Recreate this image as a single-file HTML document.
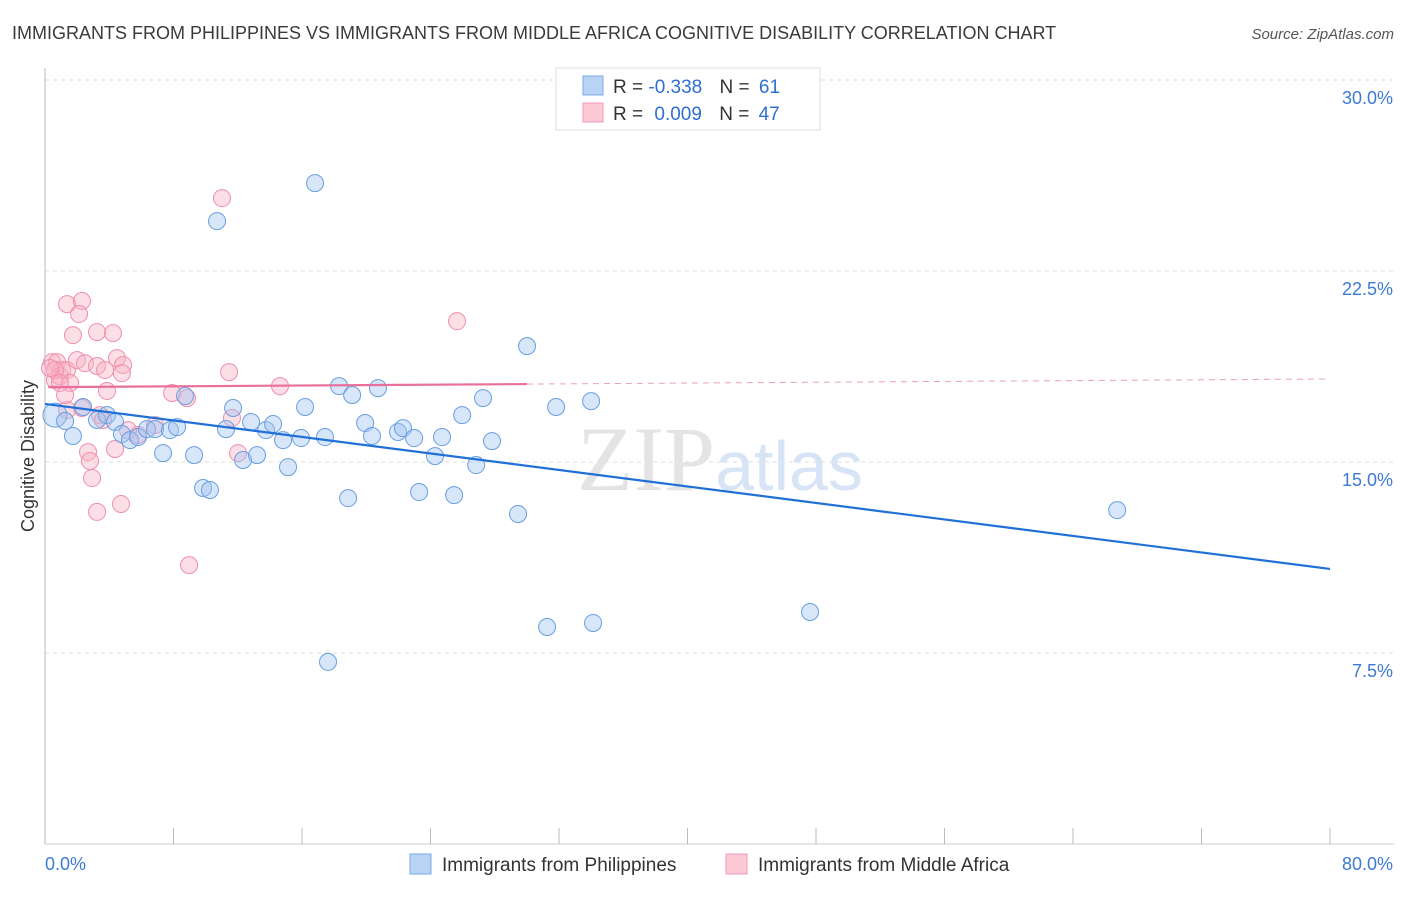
<!DOCTYPE html>
<html><head><meta charset="utf-8"><style>
body{margin:0;background:#fff;font-family:"Liberation Sans",sans-serif;}
</style></head><body>
<svg id="chart" width="1406" height="892" xmlns="http://www.w3.org/2000/svg" font-family="Liberation Sans, sans-serif">
<text x="12" y="39" font-size="18" fill="#3a3a3a">IMMIGRANTS FROM PHILIPPINES VS IMMIGRANTS FROM MIDDLE AFRICA COGNITIVE DISABILITY CORRELATION CHART</text>
<text x="1394" y="39" font-size="15" fill="#555" text-anchor="end" font-style="italic">Source: ZipAtlas.com</text>
<g id="grid"></g>
<text x="720" y="490" font-size="92" text-anchor="middle" fill="#e4e4e4" font-family="Liberation Serif, serif">ZIP<tspan fill="#d6e4f5" font-family="Liberation Sans, sans-serif" font-size="70">atlas</tspan></text>
<g id="marks"></g>
<text transform="translate(34,456) rotate(-90)" font-size="18" fill="#333" text-anchor="middle">Cognitive Disability</text>
<g>
<rect x="556" y="68" width="264" height="62" fill="#fff" stroke="#ddd"/>
<rect x="583" y="76" width="20" height="19" fill="#b9d3f5" stroke="#7aa8e6"/>
<rect x="583" y="103" width="20" height="19" fill="#fcc9d7" stroke="#f09ab4"/>
<text x="613" y="93" font-size="19" fill="#333">R = <tspan fill="#2d6fd0">-0.338</tspan>  <tspan dx="12">N = </tspan><tspan fill="#2d6fd0" dx="4">61</tspan></text>
<text x="613" y="120" font-size="19" fill="#333">R = <tspan fill="#2d6fd0" dx="6">0.009</tspan>  <tspan dx="12">N = </tspan><tspan fill="#2d6fd0" dx="4">47</tspan></text>
</g>
<g>
<rect x="410" y="854" width="21" height="20" fill="#b9d3f5" stroke="#7aa8e6"/>
<text x="442" y="871" font-size="19" fill="#333">Immigrants from Philippines</text>
<rect x="726" y="854" width="21" height="20" fill="#fcc9d7" stroke="#f09ab4"/>
<text x="758" y="871" font-size="19" fill="#333">Immigrants from Middle Africa</text>
</g>
</svg>
<script>
const xTickLabels=["0.0%","80.0%"];
const yTicks=[7.5,15,22.5,30];
const yTickLabels=["7.5%","15.0%","22.5%","30.0%"];
const blueX=[16.81,10.71,30.01,0.62,1.25,1.74,2.37,3.24,3.86,4.36,4.79,5.29,5.79,6.35,6.85,7.35,7.78,8.22,8.72,9.28,9.84,10.27,11.27,11.71,12.33,12.83,13.20,13.76,14.20,14.82,15.13,15.94,16.19,17.43,17.62,18.31,18.87,19.12,19.93,20.36,20.73,21.98,22.29,22.98,23.29,24.28,24.72,25.47,25.97,26.84,27.27,27.83,29.45,31.26,31.82,34.00,34.12,47.63,66.75];
const blueY=[25.95,24.46,19.55,16.84,16.61,16.02,17.16,16.65,16.84,16.57,16.10,15.86,15.98,16.29,16.29,15.35,16.25,16.37,17.59,15.27,13.98,13.90,16.29,17.12,15.08,16.57,15.27,16.25,16.49,15.86,14.80,15.94,17.16,15.98,7.15,17.98,13.58,17.63,16.53,16.02,17.90,16.18,16.33,15.94,13.82,15.23,15.98,13.70,16.84,14.88,17.51,15.82,12.96,8.52,17.16,17.39,8.68,9.11,13.11];
const pinkX=[11.02,1.37,2.30,2.12,25.65,1.74,3.24,4.23,0.44,0.75,1.06,0.62,0.93,1.37,1.56,1.99,2.49,3.24,3.74,4.48,4.86,4.79,3.86,11.46,14.63,8.84,7.91,2.30,1.37,3.42,3.61,6.85,5.79,11.64,4.36,2.68,2.80,2.93,12.02,3.24,4.73,8.97,0.62,0.93,0.31,1.25,5.17];
const pinkY=[25.36,21.20,21.32,20.81,20.53,19.98,20.10,20.06,18.92,18.92,18.61,18.22,18.37,18.61,18.10,19.00,18.88,18.77,18.61,19.08,18.81,18.49,17.79,18.53,17.98,17.51,17.71,17.12,17.04,16.84,16.65,16.45,16.06,16.73,15.51,15.39,15.04,14.37,15.35,13.04,13.35,10.95,18.61,18.10,18.69,17.63,16.25];
const blueTrend=[17.28,10.80];
const pinkTrend=[17.94,18.26];
const X0=45,X1=1330,Y0=844,YTOP=80;
const sx=v=>X0+v*(X1-X0)/80;
const sy=v=>Y0-v*(Y0-YTOP)/30;
const NS="http://www.w3.org/2000/svg";
function mk(tag,attrs,parent){const e=document.createElementNS(NS,tag);for(const k in attrs)e.setAttribute(k,attrs[k]);parent.appendChild(e);return e;}
const grid=document.getElementById('grid'),marks=document.getElementById('marks');
yTicks.forEach((t,i)=>{
 const l=mk('line',{x1:X0,x2:1394,y1:sy(t),y2:sy(t),stroke:'#ddd','stroke-dasharray':'4,4'},grid);
 
 
 const tx=mk('text',{x:1393,y:sy(t)+24,'font-size':18,fill:'#3d7ad6','text-anchor':'end'},grid);
 tx.textContent=yTickLabels[i];
 
 
});
const ax=mk('line',{x1:X0,x2:X0,y1:68,y2:Y0,stroke:'#bbb'},grid);


const bx=mk('line',{x1:X0,x2:1394,y1:Y0,y2:Y0,stroke:'#ccc'},grid);


for(let i=0;i<=10;i++){
 const t=mk('line',{x1:sx(i*8),x2:sx(i*8),y1:828,y2:Y0,stroke:'#bbb'},grid);
 
 
}
[[0,'start',45],[80,'end',1393]].forEach((d,i)=>{
 const t=mk('text',{x:d[2],y:870,'font-size':18,fill:'#3d7ad6','text-anchor':d[1]},grid);
 t.textContent=xTickLabels[i];
 
 
});
pinkX.forEach((x,i)=>{
 const c=mk('circle',{cx:sx(x),cy:sy(pinkY[i]),r:8.5,fill:'rgba(248,176,198,0.42)',stroke:'#f08fac','stroke-width':1},marks);
 
 
});
blueX.forEach((x,i)=>{
 const c=mk('circle',{cx:sx(x),cy:sy(blueY[i]),r:i==3?12:8.5,fill:'rgba(160,196,240,0.42)',stroke:'#6a9fe0','stroke-width':1},marks);
 
 
});
const bl=mk('line',{x1:sx(0),y1:sy(blueTrend[0]),x2:sx(80),y2:sy(blueTrend[1]),stroke:'#2170d8','stroke-width':2.2},marks);


const pm=pinkTrend[0]+(pinkTrend[1]-pinkTrend[0])*30/80;
const pl=mk('line',{x1:sx(0.2),y1:sy(pinkTrend[0]),x2:sx(30),y2:sy(pm),stroke:'#e8709a','stroke-width':2.2},marks);


const pd=mk('line',{x1:sx(30),y1:sy(pm),x2:sx(80),y2:sy(pinkTrend[1]),stroke:'#e8a0b6','stroke-width':1,'stroke-dasharray':'6,5'},marks);


</script>
</body></html>
